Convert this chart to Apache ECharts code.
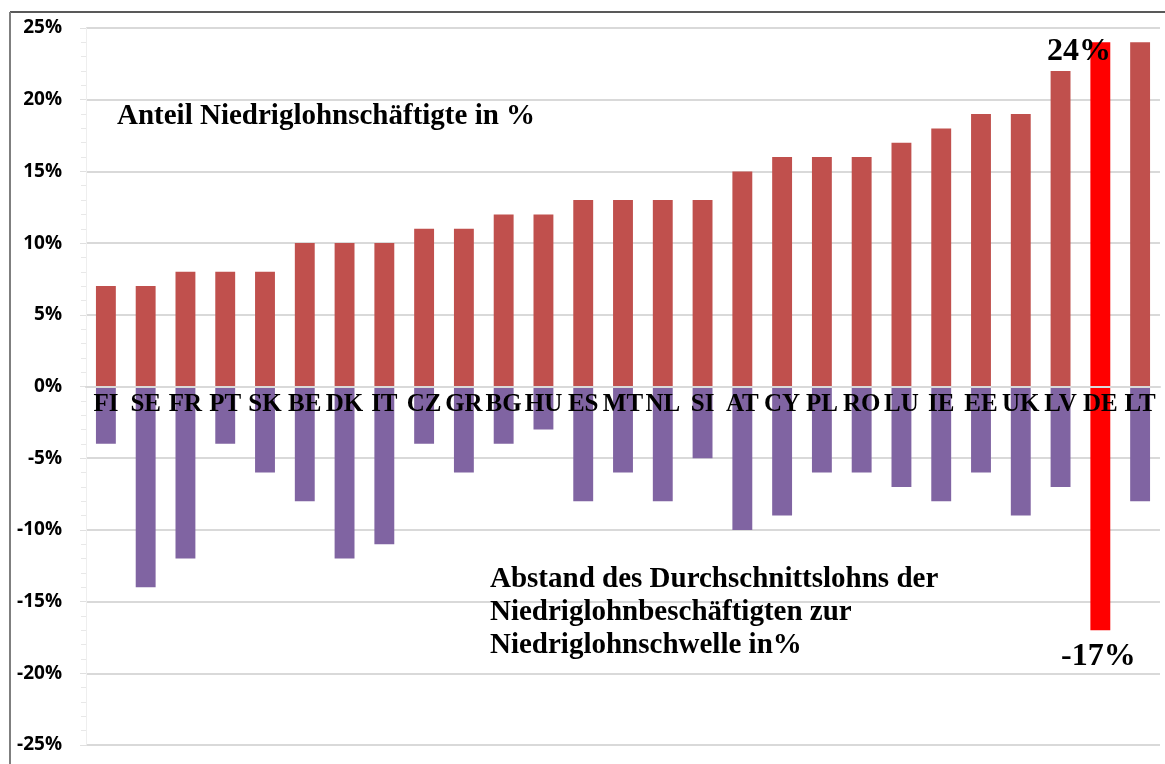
<!DOCTYPE html>
<html>
<head>
<meta charset="utf-8">
<script src="https://cdn.jsdelivr.net/npm/echarts@6/dist/echarts.min.js"></script>
<style>
html, body { margin: 0; padding: 0; background: #fff; }
#chart_id { width: 1165px; height: 764px; }
</style>
</head>
<body>
<div id="chart_id"></div>
<script>
// Länder
var countries = ['FI', 'SE', 'FR', 'PT', 'SK', 'BE', 'DK', 'IT', 'CZ', 'GR', 'BG', 'HU', 'ES', 'MT',
	'NL', 'SI', 'AT', 'CY', 'PL', 'RO', 'LU', 'IE', 'EE', 'UK', 'LV', 'DE', 'LT'];
// Anteil Niedriglohnbeschäftigte in %
var anteil = [7, 7, 8, 8, 8, 10, 10, 10, 11, 11, 12, 12, 13, 13, 13, 13, 15, 16, 16, 16, 17, 18, 19, 19, 22, 24, 24];
// Abstand zur Niedriglohnschwelle in %
var abstand = [-4, -14, -12, -4, -6, -8, -12, -11, -4, -6, -4, -3, -8, -6, -8, -5, -10, -9, -6, -6, -7, -8, -6, -9, -7, -17, -8];
var highlight = 'DE';

function colored(values, color) {
	var out = [];
	for (var i = 0; i < values.length; i++) {
		if (countries[i] == highlight) {
			out.push({ value: values[i], itemStyle: { color: '#FF0000' } });
		} else {
			out.push({ value: values[i], itemStyle: { color: color } });
		}
	}
	return out;
}

var myChart = echarts.init(document.getElementById('chart_id'));
var serif = '"Liberation Serif", "DejaVu Serif", serif';

// Achse auf die Nulllinie schieben (Rasterhöhe 717, Null in der Mitte)
option = {
	animation: false,
	grid: { left: 86, right: 5, top: 28, bottom: 19 },
	xAxis: {
		type: 'category',
		data: countries,
		z: 10,
		offset: -358,
		axisLine: { onZero: false, lineStyle: { color: '#D9D9D9', width: 2 } },
		axisTick: { show: false },
		axisLabel: {
			interval: 0,
			margin: 5,
			color: '#000',
			fontFamily: serif,
			fontWeight: 'bold',
			fontSize: 25
		}
	},
	yAxis: {
		type: 'value',
		min: -25,
		max: 25,
		interval: 5,
		axisLine: { show: true, lineStyle: { color: '#EEEEEE', width: 1 } },
		axisTick: { show: true, length: 6, lineStyle: { color: '#E0E0E0' } },
		minorTick: { show: true, splitNumber: 5, length: 5, lineStyle: { color: '#E8E8E8' } },
		splitLine: { lineStyle: { color: '#D9D9D9', width: 2 } },
		axisLabel: {
			margin: 24,
			color: '#000',
			fontFamily: '"Open Sans", "Liberation Sans", sans-serif',
			fontWeight: 'bold',
			fontSize: 19,
			formatter: '{value}%'
		}
	},
	series: [{
		name: 'Anteil',
		type: 'bar',
		data: colored(anteil, '#C0504D'),
		barWidth: '50%',
		barGap: '-100%'
	}, {
		name: 'Abstand',
		type: 'bar',
		data: colored(abstand, '#8064A2'),
		barWidth: '50%'
	}],
	graphic: [
		{ type: 'line', shape: { x1: 10, y1: 12, x2: 1165, y2: 12 }, style: { stroke: '#595959', lineWidth: 2 } },
		{ type: 'line', shape: { x1: 10, y1: 12, x2: 10, y2: 764 }, style: { stroke: '#7F7F7F', lineWidth: 2 } },
		{ type: 'text', left: 117, top: 102, z: 20,
			style: { text: 'Anteil Niedriglohnschäftigte in %', font: 'bold 29px ' + serif, fill: '#000' } },
		{ type: 'text', left: 490, top: 563, z: 20,
			style: { text: 'Abstand des Durchschnittslohns der\nNiedriglohnbeschäftigten zur\nNiedriglohnschwelle in%',
				font: 'bold 29px ' + serif, fill: '#000', lineHeight: 33 } },
		{ type: 'text', left: 1047, top: 36, z: 20,
			style: { text: '24%', font: 'bold 32px ' + serif, fill: '#000' } },
		{ type: 'text', left: 1061, top: 641, z: 20,
			style: { text: '-17%', font: 'bold 32px ' + serif, fill: '#000' } }
	]
};

myChart.setOption(option);
</script>
</body>
</html>
